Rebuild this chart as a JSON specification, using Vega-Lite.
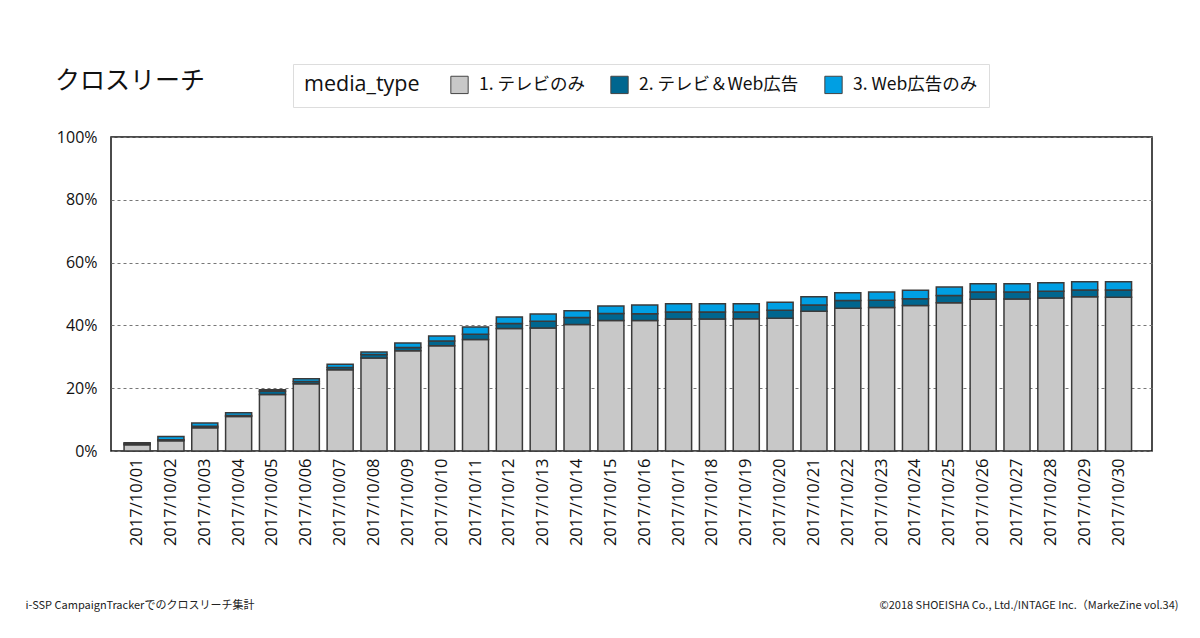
{
  "$schema": "https://vega.github.io/schema/vega-lite/v6.json",
  "width": 1041,
  "height": 314,
  "autosize": {"type": "none"},
  "padding": {"left": 111, "top": 137, "right": 48, "bottom": 187},
  "background": "white",
  "title": {
    "text": "クロスリーチ",
    "anchor": "start",
    "frame": "group",
    "font": "Noto Sans CJK JP",
    "fontSize": 25,
    "fontWeight": "normal",
    "color": "#111",
    "dx": -56,
    "offset": -30
  },
  "data": {
    "values": [
      {"date": "2017/10/01", "media_type": "1. テレビのみ", "reach": 2.0},
      {"date": "2017/10/01", "media_type": "2. テレビ＆Web広告", "reach": 0.4},
      {"date": "2017/10/01", "media_type": "3. Web広告のみ", "reach": 0.2},
      {"date": "2017/10/02", "media_type": "1. テレビのみ", "reach": 3.3},
      {"date": "2017/10/02", "media_type": "2. テレビ＆Web広告", "reach": 0.3},
      {"date": "2017/10/02", "media_type": "3. Web広告のみ", "reach": 1.0},
      {"date": "2017/10/03", "media_type": "1. テレビのみ", "reach": 7.4},
      {"date": "2017/10/03", "media_type": "2. テレビ＆Web広告", "reach": 0.5},
      {"date": "2017/10/03", "media_type": "3. Web広告のみ", "reach": 1.0},
      {"date": "2017/10/04", "media_type": "1. テレビのみ", "reach": 11.0},
      {"date": "2017/10/04", "media_type": "2. テレビ＆Web広告", "reach": 0.3},
      {"date": "2017/10/04", "media_type": "3. Web広告のみ", "reach": 0.9},
      {"date": "2017/10/05", "media_type": "1. テレビのみ", "reach": 18.0},
      {"date": "2017/10/05", "media_type": "2. テレビ＆Web広告", "reach": 1.0},
      {"date": "2017/10/05", "media_type": "3. Web広告のみ", "reach": 0.5},
      {"date": "2017/10/06", "media_type": "1. テレビのみ", "reach": 21.4},
      {"date": "2017/10/06", "media_type": "2. テレビ＆Web広告", "reach": 0.7},
      {"date": "2017/10/06", "media_type": "3. Web広告のみ", "reach": 0.9},
      {"date": "2017/10/07", "media_type": "1. テレビのみ", "reach": 25.9},
      {"date": "2017/10/07", "media_type": "2. テレビ＆Web広告", "reach": 0.7},
      {"date": "2017/10/07", "media_type": "3. Web広告のみ", "reach": 1.0},
      {"date": "2017/10/08", "media_type": "1. テレビのみ", "reach": 29.6},
      {"date": "2017/10/08", "media_type": "2. テレビ＆Web広告", "reach": 1.1},
      {"date": "2017/10/08", "media_type": "3. Web広告のみ", "reach": 0.8},
      {"date": "2017/10/09", "media_type": "1. テレビのみ", "reach": 31.9},
      {"date": "2017/10/09", "media_type": "2. テレビ＆Web広告", "reach": 1.1},
      {"date": "2017/10/09", "media_type": "3. Web広告のみ", "reach": 1.4},
      {"date": "2017/10/10", "media_type": "1. テレビのみ", "reach": 33.5},
      {"date": "2017/10/10", "media_type": "2. テレビ＆Web広告", "reach": 1.5},
      {"date": "2017/10/10", "media_type": "3. Web広告のみ", "reach": 1.6},
      {"date": "2017/10/11", "media_type": "1. テレビのみ", "reach": 35.5},
      {"date": "2017/10/11", "media_type": "2. テレビ＆Web広告", "reach": 1.7},
      {"date": "2017/10/11", "media_type": "3. Web広告のみ", "reach": 2.3},
      {"date": "2017/10/12", "media_type": "1. テレビのみ", "reach": 39.0},
      {"date": "2017/10/12", "media_type": "2. テレビ＆Web広告", "reach": 1.6},
      {"date": "2017/10/12", "media_type": "3. Web広告のみ", "reach": 2.1},
      {"date": "2017/10/13", "media_type": "1. テレビのみ", "reach": 39.2},
      {"date": "2017/10/13", "media_type": "2. テレビ＆Web広告", "reach": 2.1},
      {"date": "2017/10/13", "media_type": "3. Web広告のみ", "reach": 2.3},
      {"date": "2017/10/14", "media_type": "1. テレビのみ", "reach": 40.3},
      {"date": "2017/10/14", "media_type": "2. テレビ＆Web広告", "reach": 2.2},
      {"date": "2017/10/14", "media_type": "3. Web広告のみ", "reach": 2.2},
      {"date": "2017/10/15", "media_type": "1. テレビのみ", "reach": 41.6},
      {"date": "2017/10/15", "media_type": "2. テレビ＆Web広告", "reach": 2.2},
      {"date": "2017/10/15", "media_type": "3. Web広告のみ", "reach": 2.4},
      {"date": "2017/10/16", "media_type": "1. テレビのみ", "reach": 41.6},
      {"date": "2017/10/16", "media_type": "2. テレビ＆Web広告", "reach": 2.1},
      {"date": "2017/10/16", "media_type": "3. Web広告のみ", "reach": 2.8},
      {"date": "2017/10/17", "media_type": "1. テレビのみ", "reach": 42.0},
      {"date": "2017/10/17", "media_type": "2. テレビ＆Web広告", "reach": 2.3},
      {"date": "2017/10/17", "media_type": "3. Web広告のみ", "reach": 2.6},
      {"date": "2017/10/18", "media_type": "1. テレビのみ", "reach": 42.0},
      {"date": "2017/10/18", "media_type": "2. テレビ＆Web広告", "reach": 2.3},
      {"date": "2017/10/18", "media_type": "3. Web広告のみ", "reach": 2.6},
      {"date": "2017/10/19", "media_type": "1. テレビのみ", "reach": 42.1},
      {"date": "2017/10/19", "media_type": "2. テレビ＆Web広告", "reach": 2.2},
      {"date": "2017/10/19", "media_type": "3. Web広告のみ", "reach": 2.6},
      {"date": "2017/10/20", "media_type": "1. テレビのみ", "reach": 42.3},
      {"date": "2017/10/20", "media_type": "2. テレビ＆Web広告", "reach": 2.5},
      {"date": "2017/10/20", "media_type": "3. Web広告のみ", "reach": 2.6},
      {"date": "2017/10/21", "media_type": "1. テレビのみ", "reach": 44.5},
      {"date": "2017/10/21", "media_type": "2. テレビ＆Web広告", "reach": 2.0},
      {"date": "2017/10/21", "media_type": "3. Web広告のみ", "reach": 2.6},
      {"date": "2017/10/22", "media_type": "1. テレビのみ", "reach": 45.5},
      {"date": "2017/10/22", "media_type": "2. テレビ＆Web広告", "reach": 2.4},
      {"date": "2017/10/22", "media_type": "3. Web広告のみ", "reach": 2.5},
      {"date": "2017/10/23", "media_type": "1. テレビのみ", "reach": 45.7},
      {"date": "2017/10/23", "media_type": "2. テレビ＆Web広告", "reach": 2.3},
      {"date": "2017/10/23", "media_type": "3. Web広告のみ", "reach": 2.6},
      {"date": "2017/10/24", "media_type": "1. テレビのみ", "reach": 46.3},
      {"date": "2017/10/24", "media_type": "2. テレビ＆Web広告", "reach": 2.2},
      {"date": "2017/10/24", "media_type": "3. Web広告のみ", "reach": 2.7},
      {"date": "2017/10/25", "media_type": "1. テレビのみ", "reach": 47.2},
      {"date": "2017/10/25", "media_type": "2. テレビ＆Web広告", "reach": 2.3},
      {"date": "2017/10/25", "media_type": "3. Web広告のみ", "reach": 2.7},
      {"date": "2017/10/26", "media_type": "1. テレビのみ", "reach": 48.3},
      {"date": "2017/10/26", "media_type": "2. テレビ＆Web広告", "reach": 2.3},
      {"date": "2017/10/26", "media_type": "3. Web広告のみ", "reach": 2.7},
      {"date": "2017/10/27", "media_type": "1. テレビのみ", "reach": 48.4},
      {"date": "2017/10/27", "media_type": "2. テレビ＆Web広告", "reach": 2.2},
      {"date": "2017/10/27", "media_type": "3. Web広告のみ", "reach": 2.7},
      {"date": "2017/10/28", "media_type": "1. テレビのみ", "reach": 48.7},
      {"date": "2017/10/28", "media_type": "2. テレビ＆Web広告", "reach": 2.2},
      {"date": "2017/10/28", "media_type": "3. Web広告のみ", "reach": 2.7},
      {"date": "2017/10/29", "media_type": "1. テレビのみ", "reach": 49.1},
      {"date": "2017/10/29", "media_type": "2. テレビ＆Web広告", "reach": 2.2},
      {"date": "2017/10/29", "media_type": "3. Web広告のみ", "reach": 2.6},
      {"date": "2017/10/30", "media_type": "1. テレビのみ", "reach": 49.0},
      {"date": "2017/10/30", "media_type": "2. テレビ＆Web広告", "reach": 2.3},
      {"date": "2017/10/30", "media_type": "3. Web広告のみ", "reach": 2.6}
    ]
  },
  "mark": {"type": "bar", "stroke": "#3a3a3a", "strokeWidth": 1.5},
  "encoding": {
    "x": {
      "field": "date",
      "type": "nominal",
      "scale": {"paddingInner": 0.23, "paddingOuter": 0.495, "align": 0.39},
      "axis": {
        "title": "i-SSP CampaignTrackerでのクロスリーチ集計",
        "titleX": -86,
        "titleY": 154,
        "titleAlign": "left",
        "titleBaseline": "middle",
        "titleFont": "Noto Sans CJK JP",
        "titleFontSize": 11,
        "titleFontWeight": "normal",
        "titleColor": "#222",
        "labelAngle": -90,
        "labelAlign": "right",
        "labelBaseline": "middle",
        "labelPadding": 7,
        "labelFont": "Open Sans",
        "labelFontSize": 16.5,
        "labelColor": "#111",
        "ticks": false,
        "domain": false
      }
    },
    "y": {
      "field": "reach",
      "type": "quantitative",
      "stack": "zero",
      "scale": {"domain": [0, 100], "nice": false},
      "axis": {
        "values": [0, 20, 40, 60, 80, 100],
        "labelExpr": "datum.value + '%'",
        "labelFont": "Open Sans",
        "labelFontSize": 16,
        "labelColor": "#111",
        "labelPadding": 14,
        "ticks": false,
        "domain": false,
        "grid": true,
        "gridColor": "#777",
        "gridDash": [3, 3],
        "gridWidth": 1,
        "title": "©2018 SHOEISHA Co., Ltd./INTAGE Inc.（MarkeZine vol.34)",
        "titleAngle": 0,
        "titleX": 1067,
        "titleY": 468,
        "titleAlign": "right",
        "titleBaseline": "middle",
        "titleFont": "Noto Sans CJK JP",
        "titleFontSize": 11,
        "titleFontWeight": "normal",
        "titleColor": "#222"
      }
    },
    "color": {
      "field": "media_type",
      "type": "nominal",
      "scale": {
        "domain": ["1. テレビのみ", "2. テレビ＆Web広告", "3. Web広告のみ"],
        "range": ["#c8c8c8", "#00668f", "#009fe3"]
      },
      "legend": {
        "orient": "none",
        "legendX": 182,
        "legendY": -73,
        "direction": "horizontal",
        "titleOrient": "left",
        "title": "media_type",
        "titleFont": "Open Sans",
        "titleFontSize": 21.5,
        "titleFontWeight": "normal",
        "titleColor": "#111",
        "titlePadding": 30,
        "labelFont": "Noto Sans CJK JP",
        "labelFontSize": 17.5,
        "labelColor": "#111",
        "symbolType": "square",
        "symbolSize": 300,
        "symbolStrokeColor": "#444",
        "symbolStrokeWidth": 1,
        "symbolOpacity": 1,
        "columnPadding": 23,
        "labelOffset": 10,
        "padding": 11,
        "fillColor": "white",
        "strokeColor": "#dddddd"
      }
    },
    "order": {"field": "media_type", "type": "ordinal", "sort": "ascending"}
  },
  "config": {
    "view": {"stroke": "#111", "strokeWidth": 1.5},
    "axis": {"gridDash": [3, 3]}
  }
}
